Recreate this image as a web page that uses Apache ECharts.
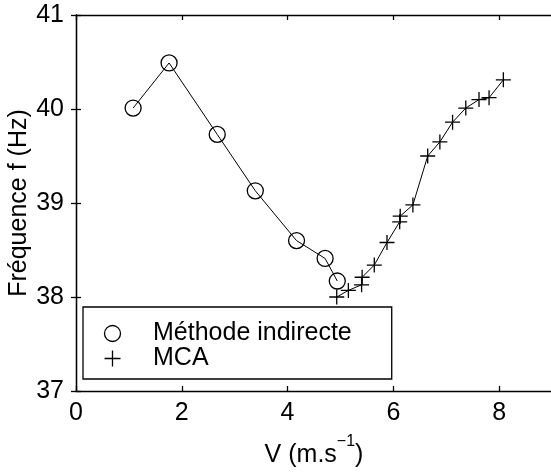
<!DOCTYPE html>
<html>
<head>
<meta charset="utf-8">
<script src="https://cdn.jsdelivr.net/npm/echarts@6/dist/echarts.min.js"></script>
<style>html,body{margin:0;padding:0;background:#fff;}#c{width:551px;height:473px;}</style>
</head>
<body>
<div id="c"></div>
<script>
// Méthode indirecte (circles)
var indV = [1.08, 1.76, 2.67, 3.39, 4.17, 4.71, 4.94];
var indF = [40.01, 40.49, 39.73, 39.13, 38.60, 38.41, 38.17];
// MCA (plus markers)
var mcaV = [4.93, 5.15, 5.40, 5.41, 5.64, 5.88, 6.12, 6.13, 6.37, 6.65, 6.88, 7.12, 7.37, 7.62, 7.81, 8.08];
var mcaF = [38.00, 38.07, 38.13, 38.21, 38.34, 38.58, 38.80, 38.86, 38.98, 39.50, 39.65, 39.86, 40.01, 40.10, 40.12, 40.31];
var seriesNames = ['Méthode indirecte', 'MCA'];
var xTitle = '{n|V (m.s}{sup|−1}{n|)}';
var yTitle = 'Fréquence f (Hz)';

var FONT = '"Liberation Sans", Arial, Helvetica, sans-serif';
var FS = 25;
function pairs(a, b) { return a.map(function (v, i) { return [v, b[i]]; }); }
var PLUS = 'path://M-1,0L1,0M0,-1L0,1';

var chart = echarts.init(document.getElementById('c'), null, {renderer: 'canvas'});
var axisLineStyle = {color: '#000', width: 1.3};
chart.setOption({
  animation: false,
  backgroundColor: '#fff',
  grid: {left: 76, top: 15, right: -1, bottom: 82, containLabel: false, outerBoundsMode: 'none'},
  xAxis: [{
    type: 'value', min: 0, max: 9, interval: 2,
    name: xTitle, nameLocation: 'middle', nameGap: 43, nameMoveOverlap: false,
    nameTextStyle: {color: '#000', fontSize: FS, fontFamily: FONT,
      rich: {
        n: {fontSize: FS, fontFamily: FONT, color: '#000', lineHeight: 34, verticalAlign: 'bottom'},
        sup: {fontSize: 16, fontFamily: FONT, color: '#000', verticalAlign: 'top', lineHeight: 16}
      }},
    axisLine: {lineStyle: axisLineStyle},
    axisTick: {inside: true, length: 5, lineStyle: axisLineStyle},
    axisLabel: {color: '#000', fontSize: FS, fontFamily: FONT, margin: 10, showMaxLabel: false},
    splitLine: {show: false}
  }, {
    type: 'value', position: 'top', min: 0, max: 9, interval: 2,
    axisLine: {lineStyle: axisLineStyle},
    axisTick: {inside: true, length: 5, lineStyle: axisLineStyle},
    axisLabel: {show: false}, splitLine: {show: false}
  }],
  yAxis: [{
    type: 'value', min: 37, max: 41, interval: 1,
    name: yTitle, nameLocation: 'middle', nameGap: 44, nameRotate: 90, nameMoveOverlap: false,
    nameTextStyle: {color: '#000', fontSize: FS, fontFamily: FONT},
    axisLine: {lineStyle: axisLineStyle},
    axisTick: {inside: true, length: 5, lineStyle: axisLineStyle},
    axisLabel: {color: '#000', fontSize: FS, fontFamily: FONT, margin: 12},
    splitLine: {show: false}
  }, {
    type: 'value', position: 'right', min: 37, max: 41, interval: 1,
    axisLine: {lineStyle: axisLineStyle},
    axisTick: {inside: true, length: 5, lineStyle: axisLineStyle},
    axisLabel: {show: false}, splitLine: {show: false}
  }],
  legend: {
    orient: 'vertical', left: 83, top: 307,
    padding: [14, 40, 8, 10],
    itemWidth: 37, itemHeight: 20, itemGap: 0,
    borderColor: '#000', borderWidth: 1.3, borderRadius: 0,
    backgroundColor: '#fff',
    selectedMode: false,
    lineStyle: {opacity: 0},
    textStyle: {color: '#000', fontSize: FS, fontFamily: FONT, lineHeight: 25, padding: [0, 0, 0, 17]},
    data: [
      {name: seriesNames[0], itemStyle: {color: 'transparent', borderColor: '#000', borderWidth: 1.3}},
      {name: seriesNames[1], itemStyle: {color: 'transparent', borderColor: '#000', borderWidth: 1.3}}
    ]
  },
  series: [{
    name: seriesNames[0], type: 'line', data: pairs(indV, indF),
    symbol: 'circle', symbolSize: 16, showAllSymbol: true,
    lineStyle: {color: '#000', width: 1},
    itemStyle: {color: 'transparent', borderColor: '#000', borderWidth: 1.3},
    emphasis: {disabled: true}
  }, {
    name: seriesNames[1], type: 'line', data: pairs(mcaV, mcaF),
    symbol: PLUS, symbolSize: 15, showAllSymbol: true,
    lineStyle: {color: '#000', width: 1},
    itemStyle: {color: 'transparent', borderColor: '#000', borderWidth: 1.3},
    emphasis: {disabled: true}
  }]
});
</script>
</body>
</html>
